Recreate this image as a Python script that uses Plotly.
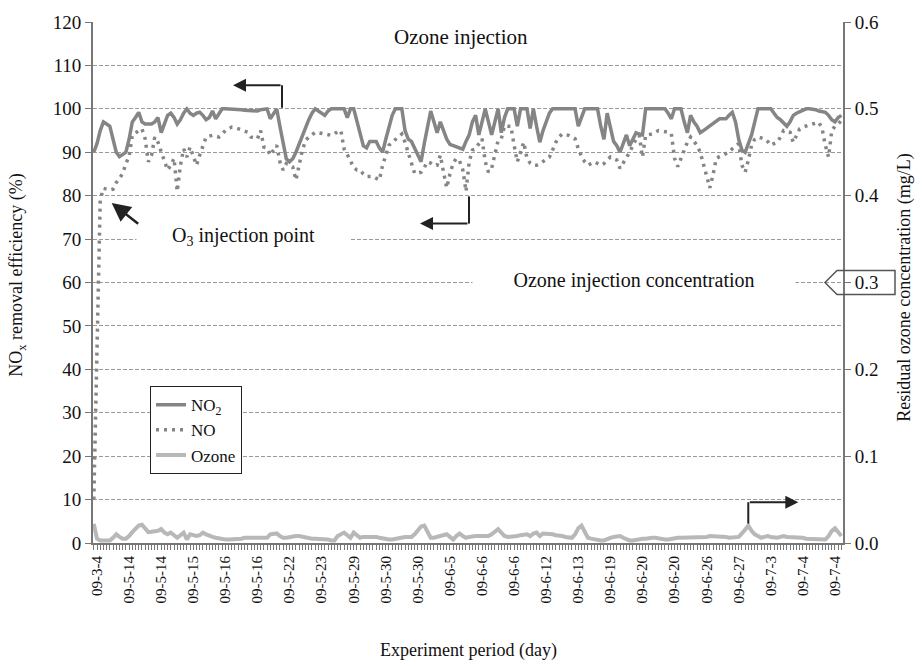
import plotly.graph_objects as go

# ---------------- data ----------------
date_labels = ["09-3-4", "09-5-14", "09-5-14", "09-5-15", "09-5-16", "09-5-16",
               "09-5-22", "09-5-23", "09-5-29", "09-5-30", "09-5-30", "09-6-5",
               "09-6-6", "09-6-6", "09-6-12", "09-6-13", "09-6-19", "09-6-20",
               "09-6-20", "09-6-26", "09-6-27", "09-7-3", "09-7-4", "09-7-4"]

no2_eff = [
    90, 92, 95, 97, 96.5, 96, 93, 90, 89, 89.5, 90, 93,
    97, 98, 99.2, 97, 96.5, 96.5, 96.5, 97, 98, 94.5, 96.5, 98.5, 99, 98, 96.5, 97.5, 99, 100, 99, 98.5, 99, 99.2,
    98.5, 97.5, 98, 99.5, 97.7, 99, 100, 100, 100, 100, 100, 100, 99.8, 99.7, 99.6, 99.5, 99.5, 99.5, 99.8, 100, 100,
    97.7, 99, 100, 96, 92, 88.5, 87.8, 88.5, 90, 92, 94, 96, 97.5, 99, 100, 99.5, 99, 98.5, 99.5, 100, 100,
    100, 100, 100, 98, 100, 100, 97, 94, 91.5, 91, 92.5, 92.5, 92.5, 91, 90, 93, 96, 98.5, 100, 100, 100,
    95, 93, 92.5, 91, 89.5, 87.8, 92, 96, 99.5, 97, 94.5, 97, 95, 93, 91.8, 91.5, 91.3, 91, 90.7, 92.5, 94,
    97, 98.5, 94, 97, 100, 97, 94, 97, 100, 94.5, 98, 100, 100, 100, 96, 100, 100, 100, 95.5, 100, 96,
    92.3, 95, 97, 99, 100, 100, 100, 100, 100, 100, 100, 100, 96, 98, 100, 100, 100, 100, 100, 96, 93,
    99, 96, 92.5, 91.5, 90, 92, 94, 91.5, 93, 94.5, 94.2, 94, 100, 100, 100, 100, 100, 100, 100, 99,
    97.7, 100, 100, 100, 97, 94.5, 98.5, 97, 96, 94.5, 95, 95.5, 96, 96.5, 97, 97.7, 97.7, 97.7, 98.5, 99.2, 97, 93,
    90.5, 90, 92, 94, 97, 100, 100, 100, 100, 100, 99, 98, 97.5, 96.8, 96, 97, 98.5, 99, 99.3, 99.6, 100, 100,
    100, 99.8, 99.5, 99.3, 99.2, 98.5, 97.5, 97, 98, 98.5,
]

no_eff = [
    10, 45, 79, 81.7, 81.5, 81.3, 81.5, 83, 84, 85.1, 87.4, 89,
    93.9, 94.5, 95, 95.4, 93.1, 87.8, 89.3, 93.5, 92.3, 90.1, 88.2, 85.9, 87, 88.6, 81, 87, 90.8, 88.9, 91.2, 89, 87, 89.3,
    91.2, 93.5, 93.7, 93.9, 93.7, 93.5, 94.2, 95, 95.4, 95.8, 95.7, 95.4, 95, 94.8, 94.6, 93.5, 93.3, 93.1, 95, 91.2, 91,
    89.3, 90.5, 91.6, 87.8, 85.9, 87.4, 87, 86.6, 83.6, 87, 90.5, 92.7, 93.5, 94, 94.6, 94.5, 94.3, 94.2, 94, 93.9, 94.2,
    94.8, 95, 90.8, 89.5, 87.8, 86.5, 85.9, 85.9, 85, 84.4, 84.4, 84.4, 84, 83.6, 87, 89.5, 91.6, 92.3, 93, 93.5,
    94.2, 92.3, 90.1, 87.8, 85.1, 85.2, 85.4, 86.5, 87.8, 87.5, 87, 87, 89.3, 85.4, 81.8, 85, 87.5, 88.6, 88, 86, 81, 87.8,
    90.5, 90.8, 92, 93.1, 87.8, 85.4, 86.3, 90, 92.7, 93.1, 96.1, 96, 96, 91.6, 87.8, 90, 92.3, 88.6, 87.5, 87, 87,
    87.3, 87.8, 88.3, 88.9, 90.5, 92.3, 93.5, 94.2, 94, 93.9, 93.5, 93.1, 90.8, 89, 87.8, 87, 87.4, 87.8, 87.4, 87, 87.4,
    88.3, 88.9, 88.5, 88.2, 86.3, 87.5, 88.9, 90, 91.6, 93, 93.9, 88.9, 93.9, 94, 94.2, 94.6, 95, 94.9, 94.8, 94.6, 94.3,
    88.6, 86.7, 88.5, 90, 92.3, 93.5, 92.5, 91.6, 90, 87, 84, 81.8, 84.8, 88.6, 89, 89.3, 89.7, 90, 90.8, 91.5, 92,
    87, 85.4, 88.2, 91.6, 93, 93.5, 93.3, 93.1, 92.5, 91.6, 92, 92.3, 93.5, 95, 94.8, 94.6, 92.3, 94, 95.4, 95.8,
    96.1, 96.3, 96.5, 96.7, 96.9, 95.4, 91.6, 88.9, 95, 96, 96.5, 97.3,
]

ozone_resid = [
    .022, .005, .003, .003, .003, .003, .006, .010, .007, .005, .005, .008,
    .0125, .016, .020, .021, .016, .0125, .013, .013, .014, .016, .012, .010, .012, .009, .006, .009, .012, .004, .010, .009, .008, .009,
    .012, .010, .008, .007, .006, .005, .005, .004, .004, .004, .005, .005, .005, .006, .006, .005, .006, .006, .006, .006, .006,
    .010, .011, .011, .008, .006, .006, .007, .007, .008, .008, .007, .006, .006, .005, .005, .005, .004, .004, .004, .003, .003,
    .008, .010, .012, .009, .006, .012, .009, .006, .007, .007, .008, .008, .007, .006, .005, .004, .004, .004, .005, .005, .006,
    .007, .007, .007, .010, .015, .019, .020, .012, .006, .006, .007, .007, .009, .010, .007, .004, .008, .011, .008, .006, .007,
    .008, .008, .008, .008, .008, .008, .010, .013, .016, .012, .008, .007, .007, .007, .008, .009, .010, .010, .008, .011, .012, .008,
    .011, .011, .010, .010, .009, .009, .008, .007, .006, .006, .010, .017, .020, .012, .006, .005, .004, .004, .003, .003,
    .005, .006, .007, .008, .008, .006, .004, .003, .003, .004, .004, .005, .005, .006, .006, .006, .005, .005, .004, .004, .005,
    .006, .006, .006, .006, .006, .006, .007, .007, .007, .007, .007, .008, .008, .008, .008, .007, .007, .006, .006, .006, .007,
    .011, .016, .020, .014, .010, .008, .006, .007, .008, .007, .006, .006, .007, .008, .007, .007, .006, .006, .006, .006,
    .005, .005, .005, .005, .004, .004, .004, .008, .014, .017, .012, .008,
]

# ---------------- figure ----------------
N = len(no2_eff)
x_idx = list(range(N))
LABEL_STEP = 10
LABEL_START = 1
tick_text = [""] * N
for k, lab in enumerate(date_labels):
    tick_text[LABEL_START + LABEL_STEP * k] = lab

FONT = "Liberation Serif"
AX = "#777777"

fig = go.Figure()
fig.add_trace(go.Scatter(x=x_idx, y=no2_eff, name="NO<sub>2</sub>", mode="lines",
                         line=dict(color="#858585", width=3.5)))
fig.add_trace(go.Scatter(x=x_idx, y=no_eff, name="NO", mode="lines",
                         line=dict(color="#858585", width=3.5, dash="3px,5px")))
fig.add_trace(go.Scatter(x=x_idx, y=ozone_resid, name="Ozone", mode="lines", yaxis="y2",
                         line=dict(color="#b8b8b8", width=4)))

fig.update_layout(
    width=924, height=666,
    margin=dict(l=93, r=81, t=15, b=123),
    plot_bgcolor="white", paper_bgcolor="white",
    font=dict(family=FONT, color="#111111", size=16),
    showlegend=True,
    legend=dict(x=0.076, y=0.301, xanchor="left", yanchor="top",
                bordercolor="#222222", borderwidth=1, bgcolor="white",
                font=dict(size=17, family=FONT), tracegroupgap=0),
    xaxis=dict(range=[-0.25, 233.5], tickmode="array", tickvals=x_idx, ticktext=tick_text,
               tickangle=-90, tickfont=dict(size=15, family=FONT), ticks="outside",
               ticklen=5, tickcolor=AX, showline=True, linecolor=AX, linewidth=2,
               showgrid=False, zeroline=False),
    yaxis=dict(range=[0, 120], dtick=10, tick0=0, tickfont=dict(size=19, family=FONT),
               ticks="outside", ticklen=6, tickcolor=AX, showline=True, linecolor=AX,
               linewidth=2, showgrid=True, gridcolor="#9a9a9a", gridwidth=1,
               griddash="4px,2px", zeroline=False),
    yaxis2=dict(range=[0, 0.6], dtick=0.1, tick0=0, tickformat=".1f", overlaying="y",
                side="right", tickfont=dict(size=19, family=FONT), ticks="outside",
                ticklen=6, tickcolor=AX, showline=True, linecolor=AX, linewidth=2,
                showgrid=False, zeroline=False),
)

ann = []
# axis titles
ann.append(dict(text="Experiment period (day)", x=0.5, y=-0.206, xref="paper", yref="paper",
                showarrow=False, font=dict(size=18), xanchor="center", yanchor="middle"))
ann.append(dict(text="NO<sub>x</sub> removal efficiency (%)", x=-0.1, y=0.513, xref="paper",
                yref="paper", showarrow=False, textangle=-90, font=dict(size=18),
                xanchor="center", yanchor="middle"))
ann.append(dict(text="Residual ozone concentration (mg/L)", x=1.0827, y=0.49, xref="paper",
                yref="paper", showarrow=False, textangle=-90, font=dict(size=18),
                xanchor="center", yanchor="middle"))
# in-plot texts
ann.append(dict(text="Ozone injection", x=0.4907, y=0.972, xref="paper", yref="paper",
                showarrow=False, font=dict(size=21), xanchor="center", yanchor="middle"))
ann.append(dict(text="O<sub>3</sub> injection point", x=0.2, y=0.589, xref="paper",
                yref="paper", showarrow=False, font=dict(size=20), xanchor="center",
                yanchor="middle", bgcolor="white", width=213, borderpad=0))
ann.append(dict(text="Ozone injection concentration", x=0.7213, y=0.503, xref="paper",
                yref="paper", showarrow=False, font=dict(size=20), xanchor="center",
                yanchor="middle", bgcolor="white", width=322, borderpad=0))
# arrows
ARW = "#222222"
ann.append(dict(text="", x=0.1867, y=0.8788, xref="paper", yref="paper", ax=49, ay=0,
                showarrow=True, arrowhead=2, arrowsize=1.3, arrowwidth=2, arrowcolor=ARW,
                standoff=0))
ann.append(dict(text="", x=0.436, y=0.6131, xref="paper", yref="paper", ax=49, ay=0,
                showarrow=True, arrowhead=2, arrowsize=1.3, arrowwidth=2, arrowcolor=ARW,
                standoff=0))
ann.append(dict(text="", x=0.0249, y=0.6528, xref="paper", yref="paper", ax=28, ay=22,
                showarrow=True, arrowhead=2, arrowsize=1.5, arrowwidth=2.5, arrowcolor=ARW,
                standoff=0))
ann.append(dict(text="", x=0.9404, y=0.0782, xref="paper", yref="paper", ax=-50, ay=0,
                showarrow=True, arrowhead=2, arrowsize=1.3, arrowwidth=2, arrowcolor=ARW,
                standoff=0))
fig.update_layout(annotations=ann)

shapes = []
shapes.append(dict(type="line", xref="paper", yref="paper", x0=0.252, x1=0.252,
                   y0=0.8352, y1=0.8788, line=dict(color=ARW, width=2)))
shapes.append(dict(type="line", xref="paper", yref="paper", x0=0.5013, x1=0.5013,
                   y0=0.6653, y1=0.6131, line=dict(color=ARW, width=2)))
shapes.append(dict(type="line", xref="paper", yref="paper", x0=0.8737, x1=0.8737,
                   y0=0.0373, y1=0.0782, line=dict(color=ARW, width=2)))
# pentagon box around the 0.3 tick label
shapes.append(dict(type="path", xref="paper", yref="paper", xsizemode="pixel",
                   ysizemode="pixel", xanchor=1.0, yanchor=0.5,
                   path="M -18,0 L -6,12 L 52,12 L 52,-12 L -6,-12 Z",
                   line=dict(color="#555555", width=1.5), fillcolor="rgba(0,0,0,0)"))
fig.update_layout(shapes=shapes)

fig.write_html("out.html")
